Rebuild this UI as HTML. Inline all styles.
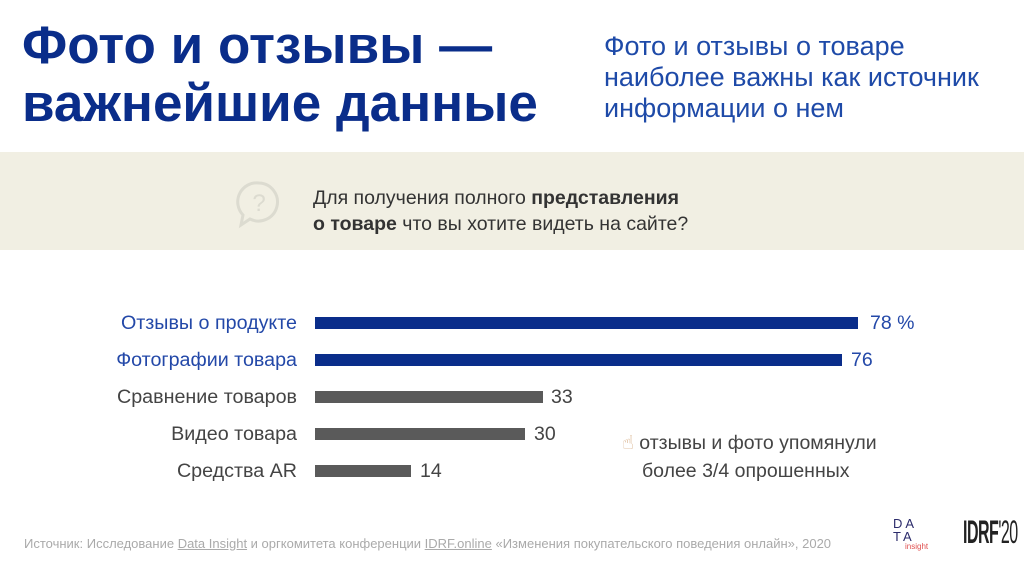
<!DOCTYPE html>
<html><head><meta charset="utf-8"><style>
body{margin:0;width:1024px;height:570px;background:#fff;position:relative;overflow:hidden;font-family:"Liberation Sans","DejaVu Sans",sans-serif}
.a{position:absolute;white-space:nowrap}
.t{left:22px;font-weight:bold;font-size:53px;color:#0a2d8a;line-height:58px}
.r{left:604px;font-size:27px;color:#1e4aa8;line-height:31px}
.lab{right:727px;font-size:19.7px;text-align:right}
.bar{position:absolute;left:315px;height:12px}
.v{font-size:19.5px}
</style></head><body>
<div class="a t" style="top:17px">Фото и отзывы —<br>важнейшие данные</div>
<div class="a r" style="top:31px">Фото и отзывы о товаре<br>наиболее важны как источник<br>информации о нем</div>
<div style="position:absolute;left:0;top:152px;width:1024px;height:98px;background:#f1efe3"></div>
<svg class="a" style="left:236px;top:180px" width="46" height="50" viewBox="0 0 46 50"><path d="M23 3a19 19 0 1 1-9 36l-9 6 2-10A19 19 0 0 1 23 3z" fill="none" stroke="#dcdbd0" stroke-width="3"/><text x="23" y="31" text-anchor="middle" font-size="24" fill="#dcdbd0" font-family="Liberation Sans">?</text></svg>
<div class="a" style="left:313px;top:185px;font-size:19.5px;line-height:26px;color:#333">Для получения полного <b>представления</b><br><b>о товаре</b> что вы хотите видеть на сайте?</div>
<div class="a lab" style="top:312px;color:#2348a8">Отзывы о продукте</div>
<div class="a lab" style="top:349px;color:#2348a8">Фотографии товара</div>
<div class="a lab" style="top:386px;color:#444">Сравнение товаров</div>
<div class="a lab" style="top:423px;color:#444">Видео товара</div>
<div class="a lab" style="top:460px;color:#444">Средства AR</div>
<div class="bar" style="top:317px;width:543px;background:#0a2d8a"></div>
<div class="bar" style="top:354px;width:527px;background:#0a2d8a"></div>
<div class="bar" style="top:391px;width:228px;background:#5a5a5a"></div>
<div class="bar" style="top:428px;width:210px;background:#5a5a5a"></div>
<div class="bar" style="top:465px;width:96px;background:#5a5a5a"></div>
<div class="a v" style="left:870px;top:312px;color:#2348a8">78 %</div>
<div class="a v" style="left:851px;top:349px;color:#2348a8">76</div>
<div class="a v" style="left:551px;top:386px;color:#444">33</div>
<div class="a v" style="left:534px;top:423px;color:#444">30</div>
<div class="a v" style="left:420px;top:460px;color:#444">14</div>
<div class="a" style="left:622px;top:429px;font-size:19.5px;line-height:28px;color:#444"><span style="color:#d9b48f">☝</span> отзывы и фото упомянули<br><span style="padding-left:20px">более 3/4 опрошенных</span></div>
<div class="a" style="left:24px;top:536px;font-size:13px;color:#aaa">Источник: Исследование <u>Data Insight</u> и оргкомитета конференции <u>IDRF.online</u> «Изменения покупательского поведения онлайн», 2020</div>
<div class="a" style="left:893px;top:517px;font-size:13px;line-height:13px;color:#2b2b6b;letter-spacing:3px">DA<br>TA</div>
<div class="a" style="left:905px;top:542px;font-size:8px;color:#e05050">insight</div>
<div class="a" style="left:963px;top:514px;font-size:32px;font-weight:bold;color:#222;letter-spacing:-1px;transform:scaleX(0.5);transform-origin:left">IDRF<span style="font-weight:normal">'20</span></div>
</body></html>
